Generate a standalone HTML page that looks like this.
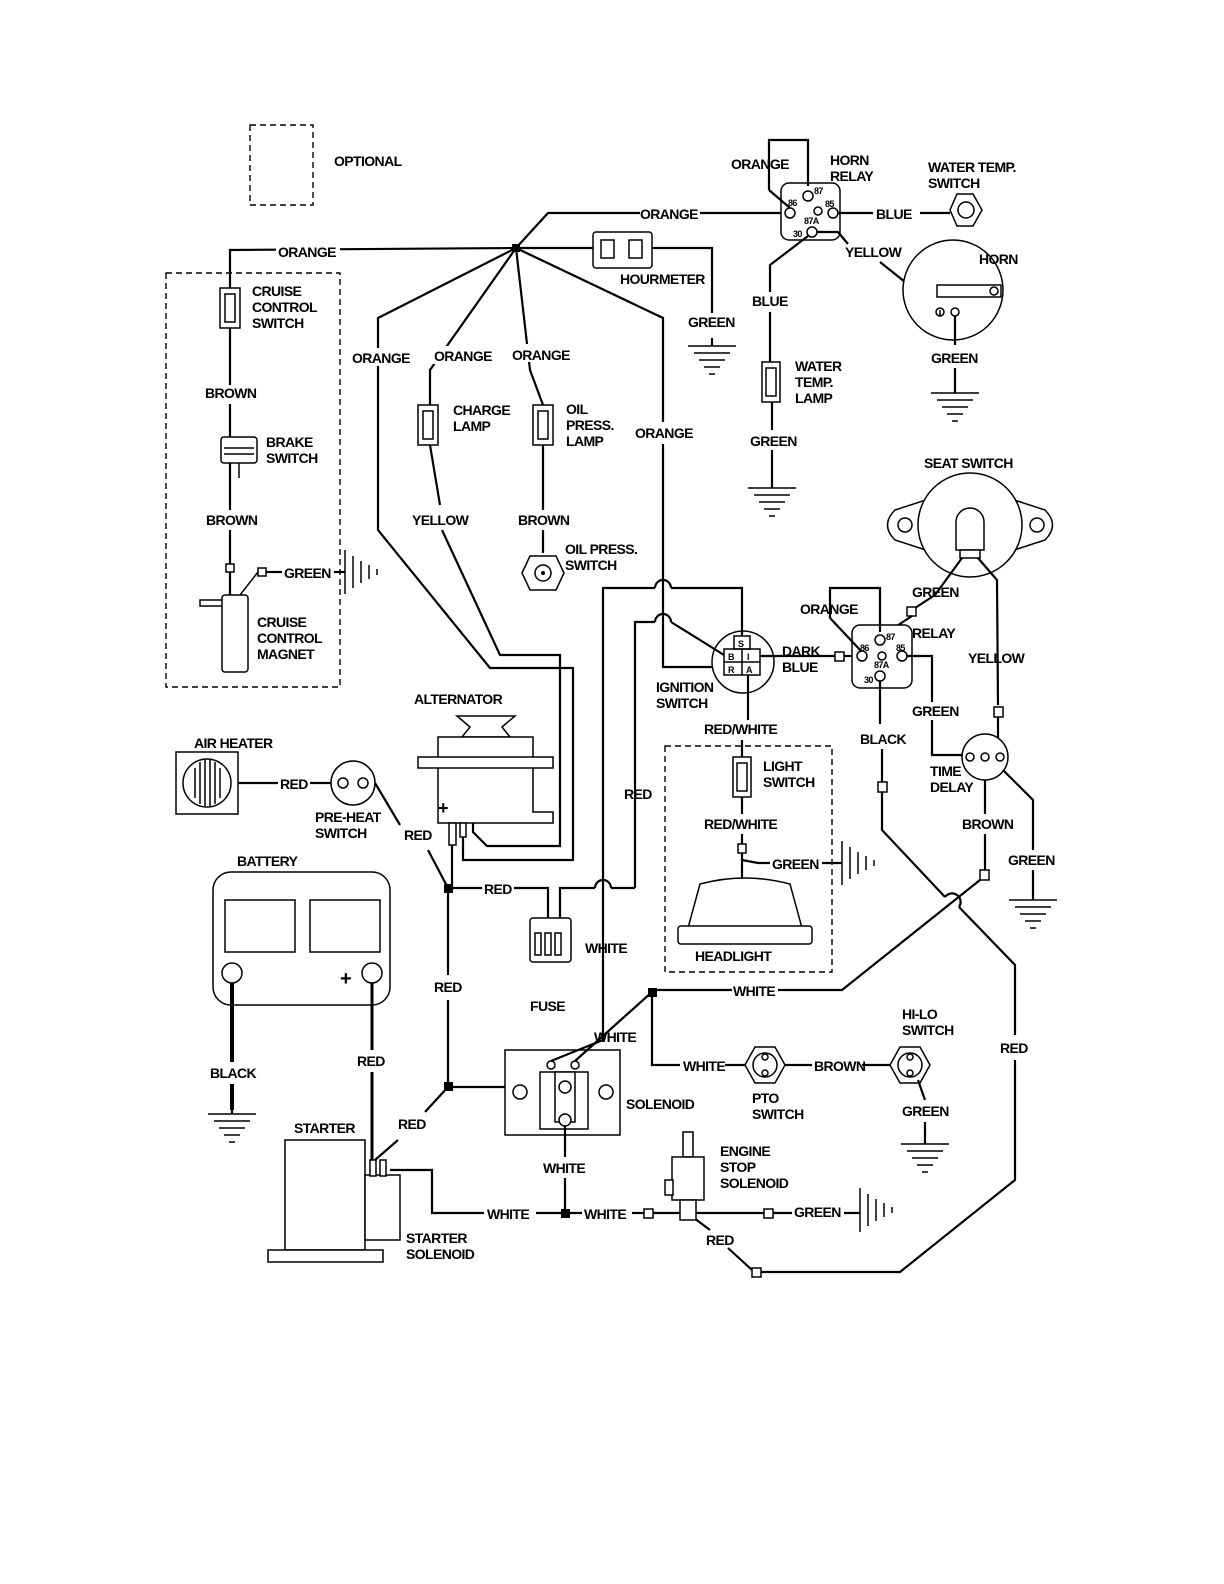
<!DOCTYPE html>
<html><head><meta charset="utf-8"><style>
html,body{margin:0;padding:0;background:#fff;overflow:hidden;width:1224px;height:1584px}
svg{display:block}
text{font-family:"Liberation Sans",sans-serif;font-weight:bold;font-size:14px;fill:#000;letter-spacing:-0.6px}
.l{stroke:#000;stroke-width:2.2;fill:none}
.t{stroke:#000;stroke-width:1.5;fill:none}
.w{stroke:#000;stroke-width:1.5;fill:#fff}
.d{stroke:#000;stroke-width:1.4;fill:none;stroke-dasharray:6 4}
.k{fill:#000}
</style></head><body>
<svg width="1224" height="1584" viewBox="0 0 1224 1584" xmlns="http://www.w3.org/2000/svg">
<defs>
<g id="gnd"><line x1="0" y1="0" x2="0" y2="8" class="l"/><line x1="-24" y1="8" x2="24" y2="8" class="t"/><line x1="-18" y1="15" x2="18" y2="15" class="t"/><line x1="-13" y1="22" x2="13" y2="22" class="t"/><line x1="-8" y1="29" x2="8" y2="29" class="t"/><line x1="-3" y1="36" x2="3" y2="36" class="t"/></g>
<g id="hatch"><line x1="0" y1="-22" x2="0" y2="22" class="t"/><line x1="8" y1="-16" x2="8" y2="16" class="t"/><line x1="16" y1="-11" x2="16" y2="11" class="t"/><line x1="24" y1="-7" x2="24" y2="7" class="t"/><line x1="32" y1="-3" x2="32" y2="3" class="t"/></g>
</defs>

<rect x="250" y="125" width="63" height="80" class="d"/>
<text x="334" y="166">OPTIONAL</text>

<rect x="166" y="273" width="174" height="414" class="d"/>
<polyline points="230,288 230,250 516,248" class="l"/>
<rect x="276" y="243" width="64" height="16" fill="#fff"/><text x="278" y="257">ORANGE</text>
<rect x="220" y="288" width="20" height="40" class="w"/><rect x="225" y="294" width="10" height="28" class="t"/>
<line x1="230" y1="328" x2="230" y2="385" class="l"/>
<text x="205" y="398">BROWN</text>
<line x1="230" y1="404" x2="230" y2="437" class="l"/>
<rect x="221" y="437" width="36" height="26" rx="3" class="w"/>
<line x1="224" y1="448" x2="254" y2="448" class="t"/><line x1="224" y1="454" x2="254" y2="454" class="t"/>
<line x1="239" y1="463" x2="239" y2="478" class="t"/>
<text x="266" y="447">BRAKE</text><text x="266" y="463">SWITCH</text>
<line x1="230" y1="463" x2="230" y2="510" class="l"/>
<text x="206" y="525">BROWN</text>
<line x1="230" y1="530" x2="230" y2="565" class="l"/>
<rect x="226" y="564" width="8" height="8" class="w"/>
<line x1="230" y1="572" x2="230" y2="595" class="l"/>
<rect x="222" y="595" width="26" height="77" rx="3" class="w"/>
<polyline points="222,600 200,600 200,606 222,606" class="t"/>
<line x1="240" y1="595" x2="258" y2="572" class="t"/><rect x="258" y="568" width="8" height="8" class="w"/>
<line x1="266" y1="572" x2="282" y2="572" class="l"/>
<text x="284" y="578">GREEN</text><line x1="334" y1="572" x2="345" y2="572" class="l"/>
<use href="#hatch" x="345" y="572"/>
<text x="252" y="296">CRUISE</text><text x="252" y="312">CONTROL</text><text x="252" y="328">SWITCH</text>
<text x="257" y="627">CRUISE</text><text x="257" y="643">CONTROL</text><text x="257" y="659">MAGNET</text>

<rect x="512" y="244" width="8" height="8" class="k"/>
<polyline points="516,248 548,213 640,213" class="l"/>
<text x="640" y="219">ORANGE</text>
<line x1="700" y1="213" x2="792" y2="213" class="l"/>
<line x1="516" y1="248" x2="593" y2="248" class="l"/>
<rect x="593" y="232" width="59" height="36" rx="3" class="w"/>
<rect x="601" y="240" width="13" height="18" class="t"/><rect x="629" y="240" width="13" height="18" class="t"/>
<text x="620" y="284">HOURMETER</text>
<polyline points="652,248 712,248 712,313" class="l"/>
<text x="688" y="327">GREEN</text>
<use href="#gnd" x="712" y="338"/>

<polyline points="516,248 378,318 378,530 490,668 573,668 573,860 463,860 463,823" class="l"/>
<rect x="350" y="348" width="62" height="18" fill="#fff"/><text x="352" y="363">ORANGE</text>
<polyline points="516,248 430,370 430,405" class="l"/>
<rect x="432" y="346" width="62" height="18" fill="#fff"/><text x="434" y="361">ORANGE</text>
<rect x="418" y="405" width="20" height="40" class="w"/><rect x="423" y="411" width="10" height="28" class="t"/>
<text x="453" y="415">CHARGE</text><text x="453" y="431">LAMP</text>
<polyline points="430,445 440,505" class="l"/>
<text x="412" y="525">YELLOW</text>
<polyline points="442,530 500,655 560,655 560,846 487,846 473,832 473,823" class="l"/>
<polyline points="516,248 530,370 543,405" class="l"/>
<rect x="510" y="344" width="62" height="18" fill="#fff"/><text x="512" y="360">ORANGE</text>
<rect x="533" y="405" width="20" height="40" class="w"/><rect x="538" y="411" width="10" height="28" class="t"/>
<text x="566" y="414">OIL</text><text x="566" y="430">PRESS.</text><text x="566" y="446">LAMP</text>
<line x1="543" y1="445" x2="543" y2="510" class="l"/>
<text x="518" y="525">BROWN</text>
<line x1="543" y1="530" x2="543" y2="553" class="l"/>
<polygon points="530,556 556,556 564,573 556,590 530,590 522,573" class="w"/>
<circle cx="543" cy="573" r="8" class="w"/><circle cx="543" cy="573" r="2" class="k"/>
<text x="565" y="554">OIL PRESS.</text><text x="565" y="570">SWITCH</text>
<polyline points="516,248 663,318 663,422" class="l"/>
<text x="635" y="438">ORANGE</text>
<polyline points="663,444 663,667 727,667" class="l"/>

<circle cx="743" cy="662" r="31" class="w"/>
<rect x="734" y="636" width="16" height="13" class="t"/><text x="738" y="647" style="font-size:9px">S</text>
<rect x="724" y="649" width="36" height="26" class="t"/><line x1="742" y1="649" x2="742" y2="675" class="t"/><line x1="724" y1="662" x2="760" y2="662" class="t"/>
<text x="728" y="660" style="font-size:9px">B</text><text x="747" y="660" style="font-size:9px">I</text>
<text x="728" y="673" style="font-size:9px">R</text><text x="746" y="673" style="font-size:9px">A</text>
<text x="656" y="692">IGNITION</text><text x="656" y="708">SWITCH</text>
<polyline points="603,1040 603,588 655,588" class="l"/>
<path d="M655,588 a8,8 0 0 1 16,0" class="l"/>
<polyline points="671,588 742,588 742,636" class="l"/>
<polyline points="635,888 635,622 655,622" class="l"/>
<path d="M655,622 a8,8 0 0 1 16,0" class="l"/>
<polyline points="671,622 700,640 724,655" class="l"/>
<text x="624" y="799">RED</text>
<line x1="760" y1="656" x2="835" y2="656" class="l"/>
<rect x="835" y="652" width="9" height="9" class="w"/>
<line x1="844" y1="656" x2="858" y2="656" class="l"/>
<text x="782" y="656">DARK</text><text x="782" y="672">BLUE</text>
<line x1="748" y1="675" x2="748" y2="720" class="l"/>
<text x="704" y="734">RED/WHITE</text>
<rect x="665" y="746" width="167" height="226" class="d"/>
<line x1="742" y1="740" x2="742" y2="757" class="l"/>
<rect x="733" y="757" width="18" height="40" class="w"/><rect x="737" y="763" width="10" height="28" class="t"/>
<text x="763" y="771">LIGHT</text><text x="763" y="787">SWITCH</text>
<line x1="742" y1="797" x2="742" y2="814" class="l"/>
<text x="704" y="829">RED/WHITE</text>
<line x1="742" y1="834" x2="742" y2="844" class="l"/>
<rect x="738" y="844" width="8" height="9" class="w"/>
<line x1="742" y1="853" x2="742" y2="880" class="l"/>
<polyline points="742,860 758,863 770,863" class="l"/>
<text x="772" y="869">GREEN</text><line x1="822" y1="863" x2="842" y2="863" class="l"/>
<use href="#hatch" x="842" y="863"/>
<path d="M688,928 L700,884 Q745,872 790,884 L802,928 Z" class="w"/>
<rect x="678" y="926" width="134" height="18" rx="3" class="w"/>
<text x="695" y="961">HEADLIGHT</text>

<rect x="781" y="183" width="59" height="57" rx="8" class="w"/>
<polyline points="769,190 769,140 808,140 808,186" class="l"/>
<line x1="769" y1="190" x2="790" y2="208" class="l"/>
<text x="731" y="169">ORANGE</text>
<circle cx="808" cy="196" r="5" class="w"/><circle cx="790" cy="213" r="5" class="w"/><circle cx="818" cy="211" r="4" class="w"/><circle cx="833" cy="213" r="5" class="w"/><circle cx="812" cy="232" r="5" class="w"/>
<text x="814" y="194" style="font-size:9px">87</text><text x="788" y="206" style="font-size:9px">86</text><text x="825" y="207" style="font-size:9px">85</text><text x="804" y="224" style="font-size:9px">87A</text><text x="793" y="237" style="font-size:9px">30</text>
<text x="830" y="165">HORN</text><text x="830" y="181">RELAY</text>
<line x1="838" y1="213" x2="873" y2="213" class="l"/>
<text x="876" y="219">BLUE</text>
<line x1="920" y1="213" x2="950" y2="213" class="l"/>
<polygon points="957,194 973,194 982,210 973,226 957,226 950,210" class="w"/><circle cx="966" cy="210" r="8" class="w"/>
<text x="928" y="172">WATER TEMP.</text><text x="928" y="188">SWITCH</text>
<polyline points="808,236 770,265 770,292" class="l"/>
<text x="752" y="306">BLUE</text>
<line x1="770" y1="312" x2="770" y2="362" class="l"/>
<rect x="762" y="362" width="18" height="40" class="w"/><rect x="766" y="368" width="10" height="28" class="t"/>
<text x="795" y="371">WATER</text><text x="795" y="387">TEMP.</text><text x="795" y="403">LAMP</text>
<line x1="772" y1="402" x2="772" y2="430" class="l"/>
<text x="750" y="446">GREEN</text>
<use href="#gnd" x="772" y="480"/>
<line x1="772" y1="450" x2="772" y2="480" class="l"/>
<polyline points="817,232 838,232 848,244" class="l"/>
<text x="845" y="257">YELLOW</text>
<polyline points="880,262 940,310" class="l"/>
<circle cx="953" cy="290" r="50" class="w"/>
<rect x="937" y="285" width="64" height="12" class="w"/><circle cx="994" cy="291" r="4" class="w"/>
<circle cx="940" cy="312" r="4" class="w"/><circle cx="955" cy="312" r="4" class="w"/>
<polyline points="940,310 940,316" class="t"/>
<text x="979" y="264">HORN</text>
<line x1="955" y1="316" x2="955" y2="345" class="l"/>
<text x="931" y="363">GREEN</text>
<line x1="955" y1="368" x2="955" y2="385" class="l"/>
<use href="#gnd" x="955" y="385"/>

<text x="924" y="468">SEAT SWITCH</text>
<path d="M895,510 L935,497 L1005,497 L1045,510 Q1060,525 1045,540 L1005,553 L935,553 L895,540 Q880,525 895,510 Z" class="w"/>
<circle cx="970" cy="525" r="52" class="w"/>
<circle cx="905" cy="525" r="7" class="w"/><circle cx="1037" cy="525" r="7" class="w"/>
<path d="M956,550 L956,522 A14,14 0 0 1 984,522 L984,550 Z" class="w"/>
<rect x="960" y="550" width="20" height="8" class="w"/>
<polyline points="962,558 935,595 912,610" class="l"/>
<text x="912" y="597">GREEN</text>
<rect x="907" y="607" width="9" height="9" class="w"/>
<line x1="912" y1="616" x2="880" y2="637" class="l"/>
<polyline points="978,558 997,580 998,705" class="l"/>
<text x="968" y="663">YELLOW</text>
<rect x="994" y="707" width="9" height="10" class="w"/>
<polyline points="998,717 998,745" class="l"/>
<rect x="852" y="625" width="60" height="63" rx="8" class="w"/>
<polyline points="830,618 830,588 880,588 880,632" class="l"/>
<line x1="830" y1="618" x2="862" y2="652" class="l"/>
<text x="800" y="614">ORANGE</text>
<circle cx="880" cy="640" r="5" class="w"/><circle cx="862" cy="656" r="5" class="w"/><circle cx="882" cy="656" r="4" class="w"/><circle cx="902" cy="656" r="5" class="w"/><circle cx="880" cy="676" r="5" class="w"/>
<text x="886" y="640" style="font-size:9px">87</text><text x="860" y="651" style="font-size:9px">86</text><text x="896" y="651" style="font-size:9px">85</text><text x="874" y="668" style="font-size:9px">87A</text><text x="864" y="683" style="font-size:9px">30</text>
<text x="912" y="638">RELAY</text>
<polyline points="907,656 932,656 932,755 962,755" class="l"/>
<rect x="908" y="702" width="55" height="18" fill="#fff"/><text x="912" y="716">GREEN</text>
<line x1="880" y1="681" x2="880" y2="724" class="l"/>
<text x="860" y="744">BLACK</text>
<line x1="882" y1="749" x2="882" y2="782" class="l"/>
<rect x="878" y="782" width="9" height="10" class="w"/>
<polyline points="882,792 882,830 945,897" class="l"/>
<path d="M945,897 a8,8 0 0 1 14,10" class="l"/>
<polyline points="959,907 1015,965 1015,1035" class="l"/>
<text x="1000" y="1053">RED</text>
<polyline points="1015,1060 1015,1180 900,1272 760,1272" class="l"/>
<rect x="752" y="1268" width="9" height="9" class="w"/>
<polyline points="752,1270 728,1248" class="l"/>
<text x="706" y="1245">RED</text>
<polyline points="710,1230 690,1215" class="l"/>
<circle cx="985" cy="757" r="23" class="w"/>
<circle cx="970" cy="757" r="4" class="w"/><circle cx="985" cy="757" r="4" class="w"/><circle cx="1000" cy="757" r="4" class="w"/>
<text x="930" y="776">TIME</text><text x="930" y="792">DELAY</text>
<line x1="985" y1="780" x2="985" y2="814" class="l"/>
<text x="962" y="829">BROWN</text>
<line x1="985" y1="834" x2="985" y2="870" class="l"/>
<rect x="980" y="870" width="9" height="10" class="w"/>
<polyline points="980,880 842,990 655,990" class="l"/>
<rect x="732" y="982" width="46" height="16" fill="#fff"/><text x="733" y="996">WHITE</text>
<polyline points="1003,770 1033,800 1033,850" class="l"/>
<text x="1008" y="865">GREEN</text>
<line x1="1033" y1="870" x2="1033" y2="892" class="l"/>
<use href="#gnd" x="1033" y="892"/>

<text x="414" y="704">ALTERNATOR</text>
<polygon points="457,716 515,716 502,727 510,737 462,737 470,727" class="w"/>
<polygon points="438,737 533,737 533,812 553,812 553,823 438,823" class="w"/>
<rect x="418" y="757" width="135" height="11" class="w"/>
<text x="438" y="814" style="font-size:18px">+</text>
<rect x="449" y="823" width="7" height="22" class="w"/><rect x="460" y="823" width="6" height="14" class="w"/>

<text x="194" y="748">AIR HEATER</text>
<rect x="176" y="752" width="62" height="62" class="w"/>
<circle cx="207" cy="783" r="24" class="w"/>
<g class="t"><line x1="195" y1="768" x2="195" y2="798"/><line x1="200" y1="762" x2="200" y2="804"/><line x1="205" y1="760" x2="205" y2="806"/><line x1="210" y1="760" x2="210" y2="806"/><line x1="215" y1="762" x2="215" y2="804"/><line x1="220" y1="768" x2="220" y2="798"/></g>
<line x1="238" y1="783" x2="278" y2="783" class="l"/>
<text x="280" y="789">RED</text>
<line x1="310" y1="783" x2="331" y2="783" class="l"/>
<circle cx="353" cy="783" r="22" class="w"/><circle cx="343" cy="783" r="5" class="w"/><circle cx="363" cy="783" r="5" class="w"/>
<text x="315" y="822">PRE-HEAT</text><text x="315" y="838">SWITCH</text>
<polyline points="375,783 400,825" class="l"/>
<text x="404" y="840">RED</text>
<polyline points="428,850 448,888" class="l"/>
<line x1="452" y1="845" x2="452" y2="888" class="l"/>
<rect x="444" y="884" width="9" height="9" class="k"/>
<line x1="448" y1="888" x2="482" y2="888" class="l"/>
<text x="484" y="894">RED</text>
<polyline points="514,888 548,888 548,918" class="l"/>
<polyline points="635,888 611,888" class="l"/>
<path d="M611,888 a8,8 0 0 0 -16,0" class="l"/>
<polyline points="595,888 560,888 560,918" class="l"/>
<rect x="530" y="918" width="41" height="44" rx="3" class="w"/>
<rect x="535" y="933" width="6" height="22" class="t"/><rect x="545" y="933" width="6" height="22" class="t"/><rect x="555" y="933" width="6" height="22" class="t"/>
<text x="530" y="1011">FUSE</text>
<text x="585" y="953">WHITE</text>
<line x1="448" y1="888" x2="448" y2="975" class="l"/>
<text x="434" y="992">RED</text>
<line x1="448" y1="1000" x2="448" y2="1087" class="l"/>
<rect x="444" y="1082" width="9" height="9" class="k"/>
<line x1="448" y1="1087" x2="558" y2="1087" class="l"/>
<polyline points="448,1087 425,1112" class="l"/>
<text x="398" y="1129">RED</text>
<polyline points="398,1140 375,1160" class="l"/>

<text x="237" y="866">BATTERY</text>
<rect x="213" y="872" width="177" height="133" rx="18" class="w"/>
<rect x="225" y="900" width="70" height="52" class="w"/><rect x="310" y="900" width="70" height="52" class="w"/>
<circle cx="232" cy="973" r="10" class="w"/><circle cx="372" cy="973" r="10" class="w"/>
<text x="340" y="985" style="font-size:20px">+</text>
<line x1="232" y1="983" x2="232" y2="1062" stroke="#000" stroke-width="4"/>
<text x="210" y="1078">BLACK</text>
<line x1="232" y1="1084" x2="232" y2="1110" stroke="#000" stroke-width="4"/>
<use href="#gnd" x="232" y="1106"/>
<line x1="372" y1="983" x2="372" y2="1050" stroke="#000" stroke-width="3"/>
<text x="357" y="1066">RED</text>
<line x1="372" y1="1072" x2="372" y2="1160" stroke="#000" stroke-width="3"/>

<text x="294" y="1133">STARTER</text>
<rect x="285" y="1140" width="80" height="110" class="w"/>
<rect x="268" y="1250" width="115" height="12" class="w"/>
<rect x="365" y="1175" width="35" height="65" class="w"/>
<rect x="370" y="1160" width="6" height="16" class="w"/><rect x="380" y="1160" width="6" height="16" class="w"/>
<text x="406" y="1243">STARTER</text><text x="406" y="1259">SOLENOID</text>
<polyline points="390,1170 432,1170 432,1213 484,1213" class="l"/>
<text x="487" y="1219">WHITE</text>
<line x1="536" y1="1213" x2="582" y2="1213" class="l"/>
<rect x="561" y="1209" width="9" height="9" class="k"/>
<text x="584" y="1219">WHITE</text>
<line x1="632" y1="1213" x2="644" y2="1213" class="l"/>
<rect x="644" y="1209" width="9" height="9" class="w"/>
<line x1="653" y1="1213" x2="680" y2="1213" class="l"/>

<rect x="505" y="1050" width="115" height="85" class="w"/>
<circle cx="520" cy="1092" r="7" class="w"/><circle cx="606" cy="1092" r="7" class="w"/>
<rect x="540" y="1072" width="48" height="57" class="w"/>
<rect x="555" y="1072" width="20" height="50" class="w"/>
<circle cx="565" cy="1087" r="6" class="w"/><circle cx="565" cy="1120" r="6" class="w"/>
<circle cx="551" cy="1065" r="4" class="w"/><circle cx="575" cy="1065" r="4" class="w"/>
<text x="626" y="1109">SOLENOID</text>
<polyline points="551,1061 603,1040" class="l"/>
<polyline points="575,1061 652,992 652,1065 680,1065" class="l"/>
<rect x="648" y="988" width="9" height="9" class="k"/>
<text x="594" y="1042">WHITE</text>
<line x1="565" y1="1126" x2="565" y2="1157" class="l"/>
<text x="543" y="1173">WHITE</text>
<line x1="565" y1="1178" x2="565" y2="1213" class="l"/>
<text x="683" y="1071">WHITE</text>
<line x1="725" y1="1065" x2="748" y2="1065" class="l"/>
<polygon points="755,1047 775,1047 785,1065 775,1083 755,1083 745,1065" class="w"/>
<circle cx="765" cy="1065" r="12" class="w"/><circle cx="765" cy="1057" r="3" class="w"/><circle cx="765" cy="1073" r="3" class="w"/>
<text x="752" y="1103">PTO</text><text x="752" y="1119">SWITCH</text>
<line x1="785" y1="1065" x2="812" y2="1065" class="l"/>
<text x="814" y="1071">BROWN</text>
<line x1="862" y1="1065" x2="893" y2="1065" class="l"/>
<polygon points="900,1047 920,1047 930,1065 920,1083 900,1083 890,1065" class="w"/>
<circle cx="910" cy="1065" r="12" class="w"/><circle cx="910" cy="1057" r="3" class="w"/><circle cx="910" cy="1073" r="3" class="w"/>
<text x="902" y="1019">HI-LO</text><text x="902" y="1035">SWITCH</text>
<polyline points="918,1080 925,1100" class="l"/>
<text x="902" y="1116">GREEN</text>
<line x1="925" y1="1122" x2="925" y2="1136" class="l"/>
<use href="#gnd" x="925" y="1136"/>
<rect x="683" y="1132" width="10" height="25" class="w"/>
<rect x="672" y="1157" width="32" height="43" class="w"/>
<rect x="665" y="1180" width="8" height="15" class="w"/>
<rect x="680" y="1200" width="16" height="20" class="w"/>
<text x="720" y="1156">ENGINE</text><text x="720" y="1172">STOP</text><text x="720" y="1188">SOLENOID</text>
<line x1="696" y1="1213" x2="764" y2="1213" class="l"/>
<rect x="764" y="1209" width="9" height="9" class="w"/>
<line x1="773" y1="1213" x2="792" y2="1213" class="l"/>
<text x="794" y="1217">GREEN</text>
<line x1="844" y1="1213" x2="860" y2="1213" class="l"/>
<use href="#hatch" x="860" y="1210"/>
</svg>
</body></html>
